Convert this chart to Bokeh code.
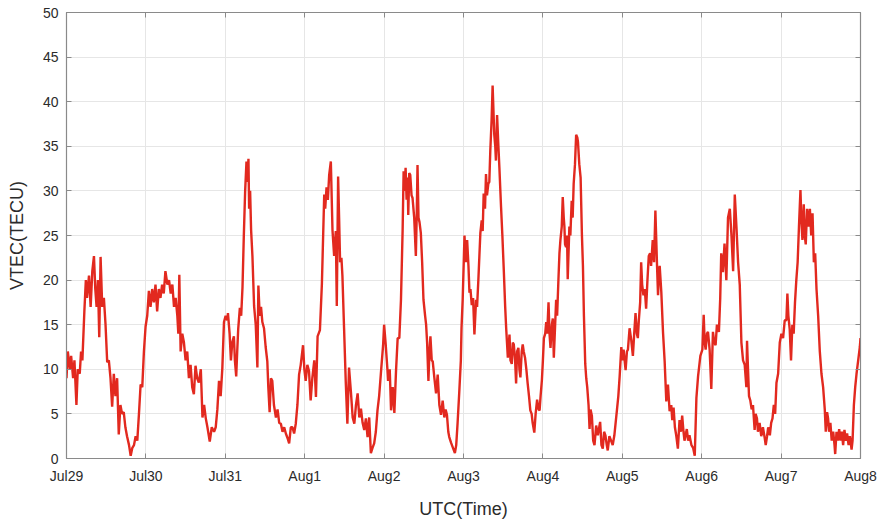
from bokeh.plotting import figure
from bokeh.models import FixedTicker, LinearAxis, Range1d
from bokeh.embed import file_html
from bokeh.resources import INLINE

# hours since Jul29 00:00 UTC
hours = [
    0, 0.4, 1.0, 1.4, 2.0, 2.4, 3.0, 3.4, 4.0, 4.4, 4.8, 5.4, 5.85, 6.2, 6.8, 7.3, 7.8, 8.3, 8.7, 9.1,
    9.5, 9.9, 10.3, 10.8, 11.3, 11.8, 12.3, 12.8, 13.3, 13.8, 14.3, 14.8, 15.3, 15.8, 16.3, 16.8, 17.3, 17.8, 18.3, 18.9,
    19.4, 19.9, 20.4, 20.9, 21.4, 21.9, 22.4, 22.9, 23.4, 23.9, 24.4, 24.9, 25.4, 25.9, 26.4, 26.9, 27.4, 27.9, 28.4, 28.9,
    29.4, 29.9, 30.5, 31.0, 31.5, 32.0, 32.5, 33.0, 33.5, 33.8, 34.1, 34.5, 35.0, 35.5, 36.0, 36.5, 37.0, 37.5, 38.0, 38.5,
    39.0, 39.5, 40.0, 40.6, 41.1, 41.6, 42.1, 42.6, 43.3, 43.9, 44.6, 45.1, 45.6, 46.1, 46.6, 47.1, 47.6, 48.1, 48.6, 48.8,
    49.3, 49.7, 50.1, 50.6, 50.9, 51.3, 51.6, 51.9, 52.4, 52.8, 53.2, 53.6, 54.0, 54.4, 54.7, 55.0, 55.2, 55.5, 55.8, 56.2,
    56.7, 57.2, 57.7, 58.0, 58.4, 58.8, 59.2, 59.7, 60.2, 60.7, 61.0, 61.4, 61.8, 62.2, 62.7, 63.3, 63.8, 64.3, 64.8, 65.3,
    65.8, 66.3, 66.8, 67.3, 67.8, 68.3, 68.8, 69.3, 69.8, 70.3, 70.8, 71.5, 71.9, 72.3, 72.8, 73.3, 73.8, 74.3, 74.9, 75.4,
    75.9, 76.6, 77.2, 77.9, 78.2, 78.6, 79.0, 79.4, 79.9,
    80.4, 80.9, 81.4, 81.7, 82.1, 82.4, 82.7, 83.1, 83.4, 83.9, 84.4, 84.9, 85.4, 86.0, 86.5, 87.0, 87.5, 88.0, 88.5, 89.0,
    89.5, 90.0, 90.5, 91.0, 91.5, 92.0, 92.5, 93.0, 93.5, 94.0, 94.5, 95.0, 95.7, 96.0, 96.5, 97.0, 97.2, 97.7, 98.1, 98.6,
    99.1, 99.6, 100.1, 100.6, 101.1, 101.6, 101.9, 102.2, 102.5, 102.8, 103.1, 103.3, 103.6, 103.9, 104.3, 104.6, 105.1, 105.6, 105.9, 106.1,
    106.4, 106.7, 107.1, 107.5, 107.9, 108.4, 108.7, 109.0, 109.4, 109.7, 110.0, 110.4, 110.7, 111.2, 111.7, 112.2, 112.7, 113.2, 113.7, 114.2,
    114.6, 115.0, 115.4, 115.7, 116.2, 116.7, 117.4, 117.8, 118.2, 118.7, 119.2, 119.4,
    119.75, 120.3, 120.7, 121.1, 121.5, 121.8, 122.1, 122.5, 122.9, 123.3, 123.8, 124.1, 124.5, 125.1, 125.5, 125.8, 126.1, 126.5, 126.8, 127.1,
    127.5, 127.8, 128.1, 128.5, 128.8, 129.3, 129.6, 129.8, 130.15, 130.55, 130.85, 131.35, 131.75, 132.2, 132.6, 132.9, 133.4, 133.9, 134.2, 134.6,
    134.9, 135.2, 135.6, 135.9, 136.2, 136.6, 136.9, 137.2, 137.6, 137.9, 138.2, 138.6, 139.0, 139.4, 139.8, 140.2, 140.6, 140.9, 141.4, 141.8,
    142.25, 142.7, 143.0, 143.3, 143.7, 144.0, 144.3, 144.7, 145.0, 145.3, 145.7, 146.0, 146.3, 146.7, 147.0, 147.3, 147.7, 148.0, 148.3, 148.7,
    149.0, 149.3, 149.7, 150.0, 150.3, 150.5, 150.7, 151.0, 151.3, 151.5, 152.0, 152.3, 152.7, 153.0, 153.3, 153.7, 154.05, 154.4, 154.6, 155.0,
    155.4, 155.8, 156.1, 156.4, 156.8, 157.1, 157.4, 157.8, 158.1, 158.4, 158.8, 159.2, 159.6,
    160.1, 160.6, 161.3, 161.7, 162.1, 162.5, 162.9, 163.3, 163.6, 164.1, 164.6, 165.1, 165.6, 166.4, 166.8, 167.2, 167.7, 168.0, 168.4, 168.7,
    169.0, 169.4, 169.7, 170.2, 170.7, 171.2, 171.6, 172.0, 172.4, 172.7, 173.0, 173.4, 173.7, 174.0, 174.4, 174.8, 175.2, 175.6, 176.0, 176.4,
    176.7, 177.2, 177.6, 178.0, 178.5, 178.8, 179.1, 179.3, 179.8, 180.3, 180.8, 181.3, 181.8, 182.3, 182.8, 183.1, 183.5, 183.9, 184.3, 184.8,
    185.3, 185.7, 186.1, 186.5, 186.8, 187.5, 187.9, 188.3, 188.9, 189.4, 189.9, 190.4, 190.9, 191.6, 192.2, 192.6, 192.9, 193.2, 193.6, 193.9,
    194.4, 194.9, 195.4, 195.8, 196.2, 196.6, 197.2, 197.6, 197.9, 198.4, 198.9,
    199.45, 199.95, 200.5, 201.0, 201.5, 202.0, 202.5, 203.0, 203.5, 204.0, 204.5, 205.0, 205.5, 205.7, 206.0, 206.3, 206.7, 207.1, 207.5, 208.0,
    208.3, 208.7, 209.0, 209.5, 210.0, 210.5, 211.05, 211.35, 211.75, 212.1, 212.6, 213.0, 213.4, 213.8, 214.2, 214.6, 215.1, 215.6, 216.1, 216.6,
    217.1, 217.6, 217.9, 218.2, 218.6, 219.0, 219.4, 219.8, 220.2, 220.6, 221.0, 221.4, 221.85, 222.15, 222.45, 222.85, 223.15, 223.45, 223.85, 224.3,
    224.7, 225.1, 225.5, 225.9, 226.3, 226.7, 227.2, 227.7, 228.2, 228.7, 229.2, 229.5, 229.9, 230.2, 230.5, 230.9, 231.3, 231.75, 232.15, 232.35,
    232.75, 233.15, 233.55, 233.95, 234.35, 234.75, 235.15, 235.55, 235.95, 236.4, 236.8, 237.3, 237.6, 238.0, 238.4, 238.8, 239.3, 239.8, 240.0,
]

vtec = [
    9, 12, 10, 11.5, 9, 11, 6, 10, 9.5, 12, 11, 16.5, 20, 18, 20.5, 17, 21, 22.7, 19, 17,
    20, 13.6, 22.6, 17, 18, 15, 10.8, 11, 9, 5.8, 9.5, 7, 9, 2.7, 6, 5, 5.2, 3.5, 2.5, 1.5,
    0.3, 1.2, 1.5, 2.5, 2, 5, 8.3, 8, 12, 14.8, 16, 18.8, 17, 19, 17.5, 19.5, 16.5, 19, 18, 19.5,
    18.5, 21, 19.5, 20, 18.5, 19.5, 17, 18, 16, 14, 20.6, 12, 14, 13, 11, 12, 9, 10.5, 8, 7.2,
    10.4, 9, 8.5, 10, 4.6, 6, 4.5, 3.5, 1.9, 3.5, 3, 3.5, 5.5, 8.7, 7, 10.1, 15.3, 16, 15.5, 16.3,
    14, 11, 13, 13.7, 11, 9.2, 12, 14.5, 16.9, 16, 19.2, 25, 30, 33.3, 31, 33.6, 28, 30, 25.6, 22.7,
    17.1, 15, 10.2, 19.4, 16, 17, 15.3, 14.6, 12.5, 10.9, 8, 5.2, 9, 8.7, 6, 4.6, 5.5, 4, 3.9, 3,
    3.5, 2.8, 2.3, 1.7, 3.5, 3.5, 2.8, 3.9, 6, 9.4, 10.5, 12.7, 10, 8.7, 10.5, 9.8, 6.5, 9, 11, 6.9,
    13.7, 14.4, 19.6, 29.6, 28, 30.4, 29, 31.8, 33.3,
    25.6, 22.7, 25.5, 17.1, 31.6, 27, 22, 22.5, 20.5, 14.6, 8.7, 3.9, 10.2, 7.3, 4.6, 3.9, 6, 7.3, 4.6, 5.6,
    4, 3.2, 4.5, 2.4, 4.6, 0.6, 1.2, 1.7, 3, 5.4, 7, 9.4, 12.7, 15, 12.7, 10, 8.7, 10, 5.4, 8,
    5.1, 9.8, 13.5, 13.5, 17.8, 25.6, 32.2, 30, 32.6, 29, 31.5, 27.3, 32, 31.8, 29.5, 29.2, 27, 22.7, 28, 32.9,
    27, 26.5, 25.3, 22, 17.8, 16, 15, 13, 8.7, 12, 13.7, 11, 10.9, 9, 7.3, 9.4, 6, 4.9, 6.5, 4.6,
    5.5, 4.9, 3, 2.4, 1.8, 1.3, 0.6, 1.5, 3.9, 7.3, 11, 14.6,
    17.8, 25, 22, 24.5, 21.6, 18.6, 19, 17.2, 18, 13.9, 17.8, 17, 20.1, 25.3, 26.7, 25.5, 29.7, 28, 31.9, 29.5,
    30.8, 31, 34.5, 38, 41.8, 36.3, 35, 33.4, 38.5, 35, 32.6, 28.2, 25, 20.9, 17, 14.6, 11.3, 13.9, 11, 10.6,
    13, 12.8, 11, 8.4, 12, 12.4, 10, 9.1, 12, 12.8, 12, 11.3, 10, 8.4, 7, 5.4, 5, 4, 2.9, 5,
    6.6, 5.5, 5.4, 7, 8.8, 11, 13.5, 14, 15.3, 14, 17.5, 14, 12.4, 15, 15.7, 11.3, 15, 17.8, 16, 20.1,
    23, 24.5, 26, 29.3, 27, 26, 24, 23.7, 25, 20.1, 26, 25, 28.9, 27, 30.8, 33, 36.3, 36, 35.5, 33,
    31.5, 25, 21.6, 16, 10.6, 9, 8, 6, 3.3, 5.5, 4.8, 2, 1.5,
    3.7, 2.6, 4.1, 1.5, 1.1, 3, 2.6, 1.5, 0.9, 2.5, 2, 1.5, 2.6, 5.5, 7, 9.2, 12.5, 11, 12.2, 11,
    9.9, 12, 12.2, 14.6, 13.3, 11.5, 14, 16.3, 14, 13.5, 15.5, 17.5, 22, 19.5, 18.3, 19, 16.8, 20, 22.7, 23,
    21.6, 24.5, 22, 27.8, 21.6, 18.3, 21, 21.6, 18.6, 14.2, 10.9, 6.4, 8.3, 5.3, 6, 4.3, 5.7, 3.5, 2.6, 1.1,
    4.3, 3, 4.8, 3, 2, 3.3, 2, 2.6, 1.5, 1.2, 0.3, 6.8, 9.2, 11.5, 12.2, 16.1, 13, 12.2, 14, 14.2,
    12.2, 7.8, 14.2, 13, 12.7, 15, 14.2, 18, 23, 20.9, 24.1,
    20, 27, 28, 25, 21, 29.6, 26, 22, 19.5, 13, 11, 10.5, 8, 13.2, 10, 7, 6.5, 5.5, 6, 3.2,
    5, 4.5, 3, 4, 2.5, 3.5, 2.3, 1.5, 2.5, 3.5, 2.6, 4, 4.5, 6, 5, 8.5, 9.5, 13, 14, 13.5,
    15.5, 15.5, 18.5, 16, 14.5, 11, 15, 14, 17.5, 20, 22, 26, 30.1, 26.5, 24.5, 28.5, 25, 24, 28, 26,
    28, 25, 27.5, 22, 23, 19, 16, 12, 9.5, 8, 5.5, 3, 5.2, 4.5, 3, 4, 2, 3, 1.5, 0.5,
    3, 2, 3.3, 2, 3, 1.5, 3.2, 2, 2.8, 1.5, 2.5, 1, 2, 6, 8, 9.5, 11, 12.5, 13.5,
]

day_ticks = [0, 24, 48, 72, 96, 120, 144, 168, 192, 216, 240]
day_labels = ["Jul29", "Jul30", "Jul31", "Aug1", "Aug2", "Aug3", "Aug4", "Aug5", "Aug6", "Aug7", "Aug8"]
y_ticks = [0, 5, 10, 15, 20, 25, 30, 35, 40, 45, 50]

FONT = "Liberation Sans"
AXIS_GRAY = "#8a8a8a"
TEXT = "#2b2b2b"

p = figure(width=882, height=521, output_backend="svg", toolbar_location=None,
           x_range=Range1d(0, 240), y_range=Range1d(0, 50),
           min_border_left=66, min_border_right=22, min_border_top=12, min_border_bottom=57,
           background_fill_color="white", border_fill_color="white")
p.outline_line_color = AXIS_GRAY
p.outline_line_width = 1.2

p.line(hours, vtec, line_color="#e2291f", line_width=2.4)

for ax in (p.xaxis[0], p.yaxis[0]):
    ax.major_tick_in = 5
    ax.major_tick_out = 0
    ax.minor_tick_line_color = None
    ax.axis_line_color = AXIS_GRAY
    ax.major_tick_line_color = AXIS_GRAY
    ax.major_label_text_font = FONT
    ax.major_label_text_font_size = "14px"
    ax.major_label_text_color = TEXT
    ax.axis_label_text_font = FONT
    ax.axis_label_text_font_size = "18px"
    ax.axis_label_text_font_style = "normal"
    ax.axis_label_text_color = TEXT

p.xaxis.ticker = FixedTicker(ticks=day_ticks)
p.xaxis.major_label_overrides = {t: l for t, l in zip(day_ticks, day_labels)}
p.xaxis.major_label_standoff = 9
p.xaxis.axis_label = "UTC(Time)"
p.xaxis.axis_label_standoff = 12

p.yaxis.ticker = FixedTicker(ticks=y_ticks)
p.yaxis.major_label_standoff = 8
p.yaxis.axis_label = "VTEC(TECU)"
p.yaxis.axis_label_standoff = 13

p.xgrid.ticker = FixedTicker(ticks=day_ticks)
p.ygrid.ticker = FixedTicker(ticks=y_ticks)
p.grid.grid_line_color = "#e6e6e6"
p.grid.grid_line_width = 1

# box ticks on the right and top edges (no labels)
right_ax = LinearAxis(ticker=FixedTicker(ticks=y_ticks), major_label_text_color=None,
                      major_label_text_font_size="1px", major_label_standoff=0,
                      major_tick_in=5, major_tick_out=0, minor_tick_line_color=None,
                      axis_line_color=AXIS_GRAY, major_tick_line_color=AXIS_GRAY)
p.add_layout(right_ax, "right")
top_ax = LinearAxis(ticker=FixedTicker(ticks=day_ticks), major_label_text_color=None,
                    major_label_text_font_size="1px", major_label_standoff=0,
                    major_tick_in=5, major_tick_out=0, minor_tick_line_color=None,
                    axis_line_color=AXIS_GRAY, major_tick_line_color=AXIS_GRAY)
p.add_layout(top_ax, "above")

open("out.html", "w").write(file_html(p, INLINE))
